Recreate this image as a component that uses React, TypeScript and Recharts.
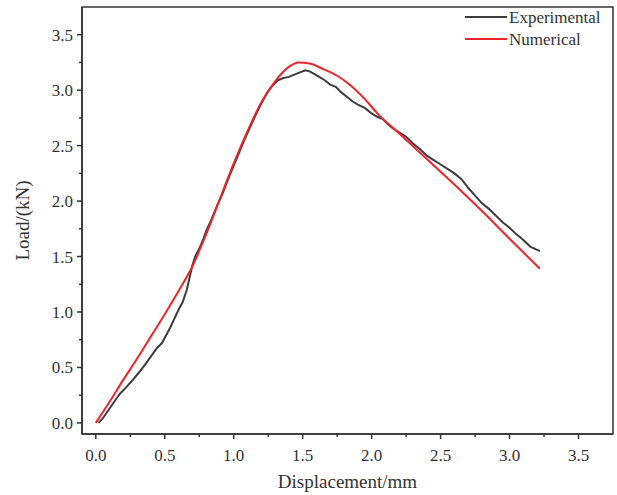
import React from 'react';
import { LineChart, Line, XAxis, YAxis, ReferenceArea } from 'recharts';

const expX = [0.02,0.05,0.1,0.15,0.18,0.22,0.27,0.31,0.36,0.4,0.44,0.48,0.51,0.54,0.57,0.6,0.63,0.66,0.68,0.7,0.72,0.75,0.78,0.8,0.84,0.88,0.92,0.96,1.0,1.04,1.08,1.12,1.16,1.2,1.24,1.28,1.32,1.36,1.4,1.44,1.48,1.52,1.55,1.58,1.62,1.66,1.7,1.74,1.78,1.82,1.86,1.9,1.95,2.0,2.04,2.08,2.12,2.16,2.2,2.25,2.3,2.35,2.4,2.45,2.5,2.55,2.6,2.65,2.7,2.75,2.8,2.85,2.9,2.95,3.0,3.05,3.1,3.15,3.2,3.22];
const expY = [0.0,0.04,0.13,0.22,0.27,0.32,0.39,0.45,0.53,0.6,0.67,0.72,0.79,0.86,0.94,1.02,1.09,1.2,1.31,1.42,1.5,1.57,1.66,1.73,1.84,1.96,2.07,2.2,2.32,2.44,2.56,2.67,2.78,2.88,2.97,3.04,3.09,3.11,3.12,3.14,3.16,3.18,3.17,3.15,3.12,3.09,3.05,3.03,2.98,2.94,2.9,2.87,2.84,2.79,2.76,2.74,2.69,2.65,2.62,2.58,2.52,2.47,2.41,2.37,2.33,2.29,2.25,2.2,2.12,2.05,1.98,1.93,1.87,1.81,1.76,1.7,1.65,1.59,1.56,1.55];

const numX = [0,0.1,0.2,0.3,0.4,0.5,0.6,0.7,0.8,0.9,1.0,1.1,1.2,1.3,1.4,1.47,1.55,1.65,1.75,1.85,1.95,2.05,2.2,2.4,2.6,2.8,3.0,3.22];
const numY = [0,0.19,0.39,0.58,0.78,0.98,1.19,1.41,1.7,2.02,2.34,2.63,2.89,3.08,3.21,3.25,3.24,3.19,3.13,3.04,2.92,2.78,2.61,2.38,2.15,1.91,1.66,1.39];

const ticks = [0,0.25,0.5,0.75,1,1.25,1.5,1.75,2,2.25,2.5,2.75,3,3.25,3.5];
const majorTicks = [0,0.5,1,1.5,2,2.5,3,3.5];
const domain: [number, number] = [-0.1, 3.75];

const expData = expX.map((x, i) => ({ x, y: expY[i] }));
const numData = numX.map((x, i) => ({ x, y: numY[i] }));

const FONT = '"Liberation Serif", "Times New Roman", serif';
const AXIS = '#333';
const EXP_COLOR = '#3c3c3c';
const NUM_COLOR = '#e8262c';

const isMajor = (v: number) => majorTicks.some((m) => Math.abs(m - v) < 1e-6);

const XTick = (props: any) => {
  const { x, y, payload } = props;
  const major = isMajor(payload.value);
  return (
    <g>
      <line x1={x} x2={x} y1={y} y2={y + (major ? 5 : 3)} stroke={AXIS} strokeWidth={1.5} />
      {major && (
        <text x={x} y={y + 27} textAnchor="middle" fontFamily={FONT} fontSize={17} fill="#333">
          {payload.value.toFixed(1)}
        </text>
      )}
    </g>
  );
};

const YTick = (props: any) => {
  const { x, y, payload } = props;
  const major = isMajor(payload.value);
  return (
    <g>
      <line x1={x} x2={x - (major ? 5 : 3)} y1={y} y2={y} stroke={AXIS} strokeWidth={1.5} />
      {major && (
        <text x={x - 9} y={y + 6} textAnchor="end" fontFamily={FONT} fontSize={17} fill="#333">
          {payload.value.toFixed(1)}
        </text>
      )}
    </g>
  );
};

const LegendBox = () => (
  <svg width={160} height={50} style={{ position: 'absolute', left: 461, top: 5 }}>
    <line x1={4} x2={46} y1={12} y2={12} stroke={EXP_COLOR} strokeWidth={2} />
    <text x={48} y={18} fontFamily={FONT} fontSize={17} fill="#333">Experimental</text>
    <line x1={4} x2={46} y1={34} y2={34} stroke={NUM_COLOR} strokeWidth={2} />
    <text x={48} y={40} fontFamily={FONT} fontSize={17} fill="#333">Numerical</text>
  </svg>
);

export default function App() {
  return (
    <div style={{ position: 'absolute', left: 0, top: 0, width: 617, height: 495, background: '#fff' }}>
      <LineChart width={617} height={495} margin={{ top: 7, right: 4, left: 0, bottom: 0 }}>
        <XAxis
          dataKey="x"
          type="number"
          domain={domain}
          ticks={ticks}
          interval={0}
          allowDataOverflow
          height={61}
          tickSize={0}
          tickMargin={0}
          tickLine={false}
          tick={<XTick />}
          axisLine={{ stroke: AXIS, strokeWidth: 1.5 }}
          label={{ value: 'Displacement/mm', position: 'insideBottom', offset: 7, fontFamily: FONT, fontSize: 19, fill: '#333' }}
        />
        <YAxis
          dataKey="y"
          type="number"
          domain={domain}
          ticks={ticks}
          interval={0}
          allowDataOverflow
          width={82}
          tickSize={0}
          tickMargin={0}
          tickLine={false}
          tick={<YTick />}
          axisLine={{ stroke: AXIS, strokeWidth: 1.5 }}
          label={{ value: 'Load/(kN)', angle: -90, position: 'insideLeft', offset: 22, fontFamily: FONT, fontSize: 19, fill: '#333', style: { textAnchor: 'middle' } }}
        />
        <ReferenceArea x1={domain[0]} x2={domain[1]} y1={domain[0]} y2={domain[1]} fill="none" fillOpacity={0} stroke={AXIS} strokeWidth={1.5} ifOverflow="visible" />
        <Line data={expData} dataKey="y" name="Experimental" type="linear" stroke={EXP_COLOR} strokeWidth={2} dot={false} isAnimationActive={false} />
        <Line data={numData} dataKey="y" name="Numerical" type="monotone" stroke={NUM_COLOR} strokeWidth={2} dot={false} isAnimationActive={false} />
      </LineChart>
      <LegendBox />
    </div>
  );
}
